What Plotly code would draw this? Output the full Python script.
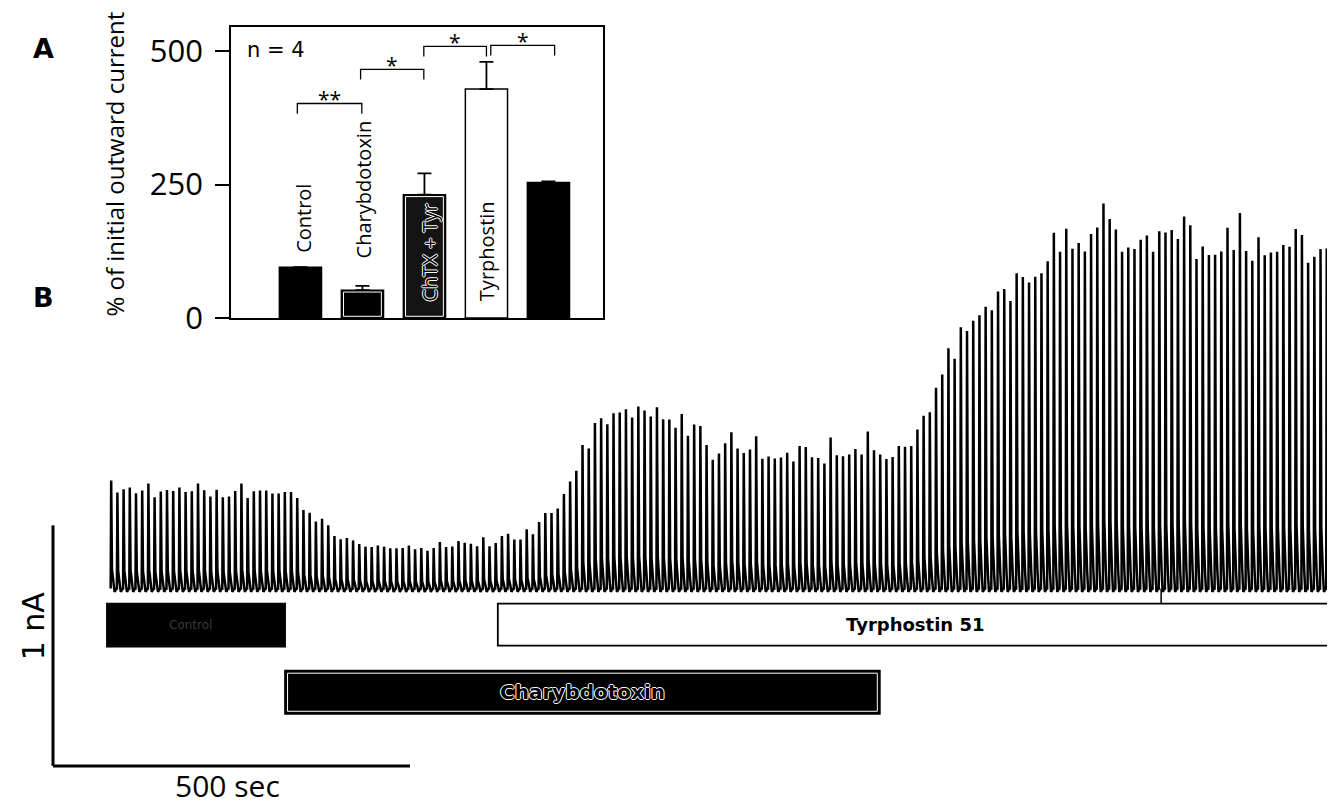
import plotly.graph_objects as go

# ---------------- Panel A data ----------------
bar_labels = ["Control", "Charybdotoxin", "ChTX + Tyr", "Tyrphostin", ""]
pct_values = [95, 52, 231, 429, 254]
pct_errors = [0, 8, 40, 51, 2]
y_tick_vals = [0, 250, 500]
n_text = "n = 4"

bracket_pairs = [(0, 1), (1, 2), (2, 3), (3, 4)]
bracket_tops = [402, 466, 509, 511]
bracket_marks = ["**", "*", "*", "*"]

# ---------------- Panel B data ----------------
# peak amplitude of each evoked outward current (nA), in order of stimulation
peaks_nA = [
    0.449, 0.399, 0.413, 0.420, 0.396, 0.407, 0.436, 0.379, 0.403, 0.410, 0.405,
    0.420, 0.401, 0.404, 0.436, 0.408, 0.382, 0.411, 0.379, 0.382, 0.405, 0.436,
    0.376, 0.404, 0.407, 0.407, 0.395, 0.395, 0.401, 0.401, 0.376, 0.326, 0.315,
    0.279, 0.290, 0.263, 0.218, 0.205, 0.210, 0.200, 0.185, 0.174, 0.172, 0.179,
    0.174, 0.167, 0.167, 0.168, 0.179, 0.163, 0.168, 0.157, 0.168, 0.193, 0.172,
    0.175, 0.197, 0.190, 0.186, 0.176, 0.213, 0.176, 0.189, 0.218, 0.228,
    0.204, 0.204, 0.246, 0.226, 0.276, 0.314, 0.314, 0.333, 0.393, 0.445, 0.490,
    0.597, 0.582, 0.688, 0.708, 0.683, 0.729, 0.732, 0.745, 0.711, 0.757, 0.740,
    0.715, 0.754, 0.704, 0.703, 0.668, 0.725, 0.635, 0.682, 0.676, 0.597,
    0.535, 0.561, 0.604, 0.650, 0.582, 0.563, 0.578, 0.633, 0.539, 0.549, 0.540,
    0.545, 0.564, 0.528, 0.592, 0.588, 0.546, 0.543, 0.520, 0.628, 0.554, 0.550,
    0.557, 0.580, 0.557, 0.653, 0.575, 0.557, 0.538, 0.547, 0.592, 0.589,
    0.592, 0.661, 0.718, 0.733, 0.835, 0.890, 0.999, 0.955, 1.086, 1.071, 1.113,
    1.136, 1.171, 1.157, 1.235, 1.245, 1.195, 1.311, 1.295, 1.272, 1.296, 1.311,
    1.361, 1.479, 1.400, 1.496, 1.413, 1.436, 1.401, 1.474, 1.501, 1.601, 1.536,
    1.493,
    1.400, 1.418, 1.411, 1.450, 1.468, 1.400, 1.485, 1.480, 1.490, 1.453, 1.547,
    1.510, 1.370, 1.422, 1.386, 1.388, 1.401, 1.500, 1.407, 1.561, 1.403, 1.363,
    1.460, 1.385, 1.397, 1.400, 1.428, 1.421, 1.495, 1.470, 1.354, 1.379, 1.411,
    1.414, 1.411,
]
first_stim_s = 81.2
stim_interval_s = 8.686

drug_names = ["Control", "Charybdotoxin", "Tyrphostin 51"]
drug_start_s = [75.6, 325.0, 623.0]
drug_end_s = [325.0, 1158.0, 1900.0]
marker_time_s = 1552.0

scale_time_s = 500
scale_current_nA = 1.0

# ---------------- layout constants ----------------
PAGE_W, PAGE_H = 1335, 807
BODY = 8                      # default page margin around the plot div
KY = 829 / 807                # vertical page px per target px
W = PAGE_W - 2 * BODY
H = 821
SEC_PER_PX = 500 / 357.0
NA_PER_PX = 1 / 240.0
X0_PX = 53          # target x of t = 0
BASE_PX = 587       # target y of 0 nA


def fx(x):
    return (x - BODY) / W


def fy(y):
    return 1 - (y * KY - BODY) / H


fig = go.Figure()

# ---------- Panel A bars ----------
cat_x = list(range(len(pct_values)))
fills = ["black", "black", "#141414", "white", "black"]
fig.add_trace(go.Bar(
    x=cat_x, y=pct_values, width=0.68,
    marker=dict(color=fills, line=dict(color="black", width=1.5)),
    error_y=dict(type="data", symmetric=False, array=pct_errors,
                 arrayminus=[0] * len(pct_errors), color="black",
                 thickness=1.8, width=7),
    xaxis="x", yaxis="y", showlegend=False, hoverinfo="skip",
))

# significance brackets
leg = 19
offs = [(-0.05, -0.01), (-0.03, -0.01), (-0.01, 0.0), (0.07, 0.1)]
for (i, j), top, mark, (dl, dr) in zip(bracket_pairs, bracket_tops, bracket_marks, offs):
    xl, xr = i + dl, j + dr
    fig.add_trace(go.Scatter(
        x=[xl, xl, xr, xr], y=[top - leg, top, top, top - leg], mode="lines",
        line=dict(color="black", width=1.3), xaxis="x", yaxis="y",
        showlegend=False, hoverinfo="skip"))
    fig.add_annotation(x=(xl + xr) / 2, y=top + 9, xref="x", yref="y",
                       xanchor="center", yanchor="middle",
                       text=mark, showarrow=False,
                       font=dict(family="Open Sans", size=21, color="black"))

# inner white outlines of the dark bars
for k in (1, 2):
    fig.add_shape(type="rect", xref="x", yref="y",
                  x0=k - 0.34 + 0.035, x1=k + 0.34 - 0.035,
                  y0=3, y1=pct_values[k] - 3.5,
                  line=dict(color="white", width=1), fillcolor="rgba(0,0,0,0)")

outline = "1px 0 0 #fff, -1px 0 0 #fff, 0 1px 0 #fff, 0 -1px 0 #fff"
label_pos = [(0.06, 186, "none"), (1.01, 241, "none"),
             (2.08, 123, outline), (3.0, 126, "none")]
for lab, (lx, ly, sh) in zip(bar_labels, label_pos):
    fig.add_annotation(x=lx, y=ly, xref="x", yref="y", text=lab, textangle=-90,
                       xanchor="center", yanchor="middle", showarrow=False,
                       font=dict(family="Open Sans", size=20, color="black", shadow=sh))

fig.add_annotation(x=-0.39, y=502, xref="x", yref="y", text=n_text, showarrow=False,
                   xanchor="center", yanchor="middle",
                   font=dict(family="DejaVu Sans", size=21, color="black"))

# y-axis title for panel A
fig.add_annotation(x=fx(115), y=fy(163), xref="paper", yref="paper",
                   xanchor="center", yanchor="middle",
                   text="% of initial outward current", textangle=-90,
                   showarrow=False, font=dict(family="Open Sans", size=24, color="black"))

# panel letters
for letter, (lx, ly) in (("A", (43, 48)), ("B", (43, 297))):
    fig.add_annotation(x=fx(lx), y=fy(ly), xref="paper", yref="paper", text=letter,
                       xanchor="center", yanchor="middle", showarrow=False,
                       font=dict(family="DejaVu Sans", size=27, color="black", weight="bold"))

# ---------- Panel B trace ----------
shape_dt_px = [-0.3, 0.2, 1.0, 2.5, 3.6, 5.5]
shape_frac = [0.0, 1.0, 0.18, 0.05, None, 0.0]
undershoot = -0.014
tx_list, ty_list = [], []
for k, amp in enumerate(peaks_nA):
    t0 = first_stim_s + k * stim_interval_s
    for dt, fr in zip(shape_dt_px, shape_frac):
        tx_list.append(t0 + dt * SEC_PER_PX)
        ty_list.append(undershoot if fr is None else amp * fr)
fig.add_trace(go.Scatter(x=tx_list, y=ty_list, mode="lines",
                         line=dict(color="black", width=2.5),
                         xaxis="x2", yaxis="y2", showlegend=False, hoverinfo="skip"))

# drug application bars
bar_rows = [(-0.0625, -0.2417), (-0.3417, -0.5208), (-0.0625, -0.2375)]
fills_b = ["black", "black", "white"]
for name, s, e, (y1, y0), fc in zip(drug_names, drug_start_s, drug_end_s, bar_rows, fills_b):
    fig.add_shape(type="rect", xref="x2", yref="y2", x0=s, x1=e, y0=y0, y1=y1,
                  fillcolor=fc, line=dict(color="black", width=1.8))
    if name == "Control":
        fig.add_annotation(x=(s + e) / 2 - 8, y=(y0 + y1) / 2, xref="x2", yref="y2",
                           text=name, showarrow=False,
                           font=dict(family="DejaVu Sans", size=12, color="#3c3c3c"))
    elif name == "Charybdotoxin":
        fig.add_shape(type="rect", xref="x2", yref="y2",
                      x0=s + 2.5 * SEC_PER_PX, x1=e - 2.5 * SEC_PER_PX,
                      y0=y0 + 2.5 * NA_PER_PX, y1=y1 - 2.5 * NA_PER_PX,
                      line=dict(color="white", width=1), fillcolor="rgba(0,0,0,0)")
        fig.add_annotation(x=(s + e) / 2, y=(y0 + y1) / 2, xref="x2", yref="y2",
                           text=name, showarrow=False,
                           font=dict(family="DejaVu Sans", size=20, color="black",
                                     weight="bold", shadow=outline))
    else:
        fig.add_annotation(x=1207, y=(y0 + y1) / 2, xref="x2", yref="y2", text=name,
                           showarrow=False,
                           font=dict(family="DejaVu Sans", size=18, color="black",
                                     weight="bold"))

# marker tick on the tyrphostin bar
fig.add_shape(type="line", xref="x2", yref="y2", x0=marker_time_s, x1=marker_time_s,
              y0=-0.0625, y1=0.0, line=dict(color="black", width=1.5))

# scale bars
sb_y = -0.7375
fig.add_shape(type="line", xref="x2", yref="y2", x0=0, x1=scale_time_s, y0=sb_y, y1=sb_y,
              line=dict(color="black", width=3))
fig.add_shape(type="line", xref="x2", yref="y2", x0=0, x1=0, y0=sb_y,
              y1=sb_y + scale_current_nA, line=dict(color="black", width=3))
fig.add_annotation(x=244, y=-0.82, xref="x2", yref="y2", text=f"{scale_time_s} sec",
                   xanchor="center", yanchor="middle",
                   showarrow=False, font=dict(family="Open Sans", size=30, color="black"))
fig.add_annotation(x=-27, y=-0.154, xref="x2", yref="y2",
                   xanchor="center", yanchor="middle",
                   text=f"{scale_current_nA:g} nA", textangle=-90, showarrow=False,
                   font=dict(family="DejaVu Sans", size=30, color="black"))

# ---------- axes ----------
y_top_target = BODY / KY
y_bot_target = (BODY + H) / KY
fig.update_layout(
    width=W, height=H, margin=dict(l=0, r=0, t=0, b=0),
    paper_bgcolor="white", plot_bgcolor="rgba(0,0,0,0)",
    xaxis=dict(domain=[fx(231), fx(603)], range=[-1.12, 4.88], anchor="y",
               showline=True, mirror=True, linecolor="black", linewidth=1.6,
               showticklabels=False, ticks="", showgrid=False, zeroline=False),
    yaxis=dict(domain=[fy(317), fy(27)], range=[0, 545], anchor="x",
               tickvals=y_tick_vals, ticks="outside", ticklen=14, tickwidth=1.6,
               tickcolor="black", showline=True, mirror=True, linecolor="black",
               linewidth=1.6, showgrid=False, zeroline=False, ticklabelstandoff=6,
               tickfont=dict(family="Open Sans", size=31, color="black")),
    xaxis2=dict(domain=[0, 1], anchor="y2", visible=False,
                range=[(BODY - X0_PX) * SEC_PER_PX, (PAGE_W - BODY - X0_PX) * SEC_PER_PX]),
    yaxis2=dict(domain=[0, 1], anchor="x2", visible=False,
                range=[(BASE_PX - y_bot_target) * NA_PER_PX, (BASE_PX - y_top_target) * NA_PER_PX]),
)

fig.write_html("out.html")
